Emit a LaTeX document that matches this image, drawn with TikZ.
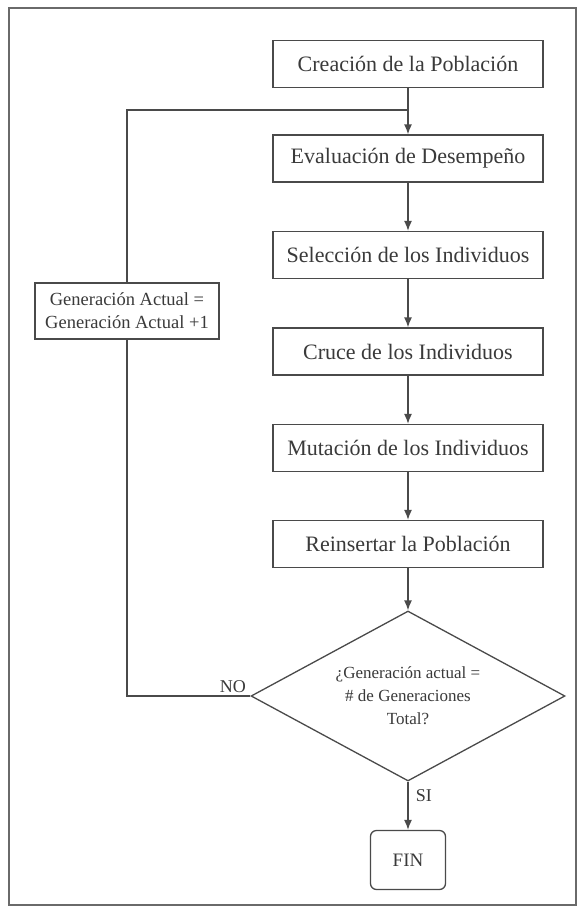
\documentclass[tikz,border=0pt]{standalone}
\usepackage{fontspec}
\setmainfont{Liberation Serif}
\usetikzlibrary{shapes.geometric,arrows.meta}
\definecolor{linec}{HTML}{4A4A4A}
\definecolor{txt}{HTML}{3A3A3A}
\definecolor{framec}{HTML}{6A6A6A}
\begin{document}
\begin{tikzpicture}[x=1pt,y=-1pt,
 box/.style={draw=linec, line width=1.3pt, minimum width=270pt, minimum height=47pt, inner sep=0pt, font=\rmfamily\fontsize{22}{24}\selectfont, text=txt},
 genbox/.style={draw=linec, line width=1.3pt, minimum width=184pt, minimum height=56pt, inner sep=0pt, align=center, font=\rmfamily\fontsize{18.5}{23}\selectfont, text=txt},
 decbox/.style={draw=linec, line width=1.3pt, diamond, aspect=1.85, minimum width=314pt, minimum height=170pt, inner sep=0pt, align=center, font=\rmfamily\fontsize{17}{23}\selectfont, text=txt},
 finbox/.style={draw=linec, line width=1.3pt, rounded corners=6pt, minimum width=75pt, minimum height=59pt, inner sep=0pt, font=\rmfamily\fontsize{19}{21}\selectfont, text=txt},
 lbl/.style={font=\rmfamily\fontsize{18}{20}\selectfont, text=txt},
 arr/.style={draw=linec, line width=1.3pt, -{Latex[length=10pt,width=8pt]}},
 ln/.style={draw=linec, line width=1.3pt},
 framest/.style={draw=framec, line width=1.5pt}]
\useasboundingbox (0,0) rectangle (579,911);
\fill[white] (0,0) rectangle (579,911);
\draw[framest] (9,8) rectangle (576,905);
\node[box] (c) at (408,64) {Creación de la Población};
\node[box] (e) at (408,158.5) {Evaluación de Desempeño};
\node[box] (s) at (408,255) {Selección de los Individuos};
\node[box] (x) at (408,351.5) {Cruce de los Individuos};
\node[box] (m) at (408,448) {Mutación de los Individuos};
\node[box] (r) at (408,544) {Reinsertar la Población};
\node[decbox] (d) at (408,696) {¿Generación actual =\\\# de Generaciones\\Total?};
\node[finbox] (f) at (408,860) {FIN};
\node[genbox] (g) at (127,311) {Generación Actual =\\Generación Actual +1};
\coordinate (j) at (408,110);
\draw[arr] (c.south) -- (e.north);
\draw[arr] (e.south) -- (s.north);
\draw[arr] (s.south) -- (x.north);
\draw[arr] (x.south) -- (m.north);
\draw[arr] (m.south) -- (r.north);
\draw[arr] (r.south) -- (d.north);
\draw[arr] (d.south) -- (f.north) node[lbl, pos=0.3, right=4pt] {SI};
\draw[ln] (d.west) -| (g.south);
\draw[ln] (g.north) |- (j);
\node[lbl, anchor=base east] (no) at ([xshift=-1pt,yshift=4pt]d.west) {NO};
\end{tikzpicture}
\end{document}
